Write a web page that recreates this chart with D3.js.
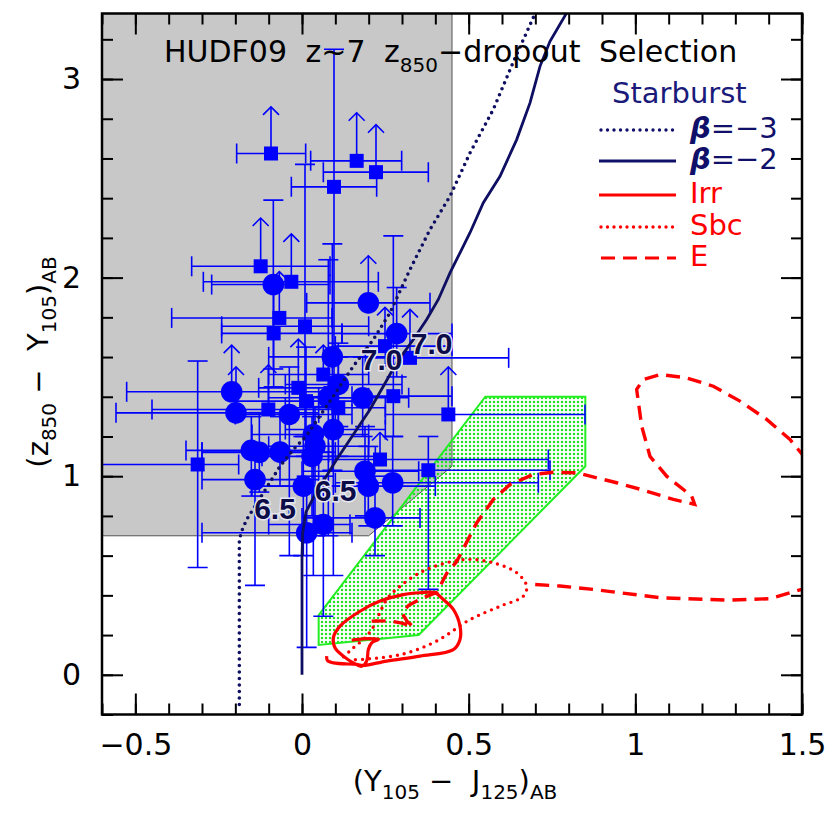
<!DOCTYPE html>
<html>
<head>
<meta charset="utf-8">
<script src="https://cdn.jsdelivr.net/npm/d3@7"></script>
<style>
body { margin: 0; background: #fff; }
text { font-family: "DejaVu Sans", sans-serif; }
</style>
</head>
<body>
<svg id="chart" width="830" height="823"></svg>
<script>
// ---- data ----
var xMajorTicks = [-0.5, 0, 0.5, 1, 1.5];
var yMajorTicks = [0, 1, 2, 3];

// z~7 selection window (grey) and the green box
var selectionBox = [[-0.6, 0.7], [0.2, 0.7], [0.45, 1.05], [0.45, 3.33], [-0.6, 3.33]];
var greenBox = [[0.05, 0.3], [0.05, 0.15], [0.35, 0.2], [0.85, 1.05], [0.85, 1.4], [0.55, 1.4]];

// starburst tracks
var beta3Track = [[-0.188, -0.15], [-0.188, 0.68], [-0.181, 0.723], [-0.166, 0.782], [-0.116, 0.916],
  [-0.066, 1.05], [-0.026, 1.134], [0.014, 1.205], [0.094, 1.403], [0.154, 1.554], [0.214, 1.688],
  [0.264, 1.823], [0.324, 2.041], [0.384, 2.242], [0.444, 2.41], [0.504, 2.628], [0.574, 2.847],
  [0.634, 3.086], [0.694, 3.31], [0.71, 3.4]];
var beta2Track = [[0, 0], [0, 0.6], [0.002, 0.715], [0.012, 0.82], [0.04, 0.91], [0.104, 1.084],
  [0.164, 1.235], [0.204, 1.336], [0.244, 1.453], [0.284, 1.571], [0.334, 1.688], [0.374, 1.789],
  [0.409, 1.89], [0.444, 2.024], [0.474, 2.125], [0.504, 2.226], [0.544, 2.377], [0.594, 2.51],
  [0.644, 2.695], [0.684, 2.88], [0.714, 3.064], [0.744, 3.19], [0.794, 3.333], [0.81, 3.4]];

// galaxy templates
var irrTrack = [[0.074, 0.094], [0.076, 0.072], [0.094, 0.06], [0.164, 0.052], [0.184, 0.047], [0.254, 0.069],
  [0.354, 0.094], [0.454, 0.127], [0.474, 0.178], [0.474, 0.245], [0.454, 0.329], [0.424, 0.379],
  [0.399, 0.413], [0.354, 0.413], [0.304, 0.404], [0.234, 0.371], [0.174, 0.32], [0.114, 0.245],
  [0.094, 0.186], [0.099, 0.136], [0.124, 0.094], [0.154, 0.06], [0.179, 0.043], [0.194, 0.069],
  [0.199, 0.127], [0.209, 0.161], [0.229, 0.178], [0.214, 0.181], [0.184, 0.181], [0.149, 0.174]];
var sbcTrack = [[0.125, 0.09], [0.15, 0.13], [0.185, 0.18], [0.21, 0.23], [0.23, 0.3], [0.254, 0.379],
  [0.294, 0.446], [0.354, 0.514], [0.414, 0.555], [0.494, 0.581], [0.574, 0.564], [0.644, 0.514],
  [0.674, 0.447], [0.664, 0.396], [0.594, 0.345], [0.504, 0.278], [0.404, 0.17], [0.304, 0.105],
  [0.2, 0.08], [0.15, 0.075]];
var eTrack = [[0.209, 0.27], [0.26, 0.272], [0.3, 0.26], [0.333, 0.243], [0.315, 0.27], [0.3, 0.31],
  [0.32, 0.35], [0.36, 0.385], [0.404, 0.415], [0.434, 0.51], [0.464, 0.57], [0.524, 0.765],
  [0.574, 0.883], [0.624, 0.958], [0.694, 1.009], [0.754, 1.02], [0.824, 1.017], [0.944, 0.967],
  [1.024, 0.93], [1.114, 0.883], [1.178, 0.858], [1.169, 0.9], [1.094, 1.0], [1.044, 1.1],
  [1.019, 1.252], [1.004, 1.437], [1.024, 1.487], [1.074, 1.512], [1.154, 1.495], [1.234, 1.453],
  [1.314, 1.378], [1.394, 1.286], [1.464, 1.185], [1.52, 1.07], [1.6, 0.8], [1.56, 0.5],
  [1.499, 0.43], [1.404, 0.383], [1.274, 0.376], [1.074, 0.388], [0.874, 0.43], [0.774, 0.447],
  [0.694, 0.455]];

var zLabels = [
  { t: "6.5", x: -0.081, y: 0.782 },
  { t: "6.5", x: 0.101, y: 0.874 },
  { t: "7.0", x: 0.239, y: 1.537 },
  { t: "7.0", x: 0.389, y: 1.613 }
];

// candidates: x, y, error ranges; lim = top of 1-sigma lower limit arrow
var squarePts = [
  { x: -0.093, y: 2.625, xl: -0.196, xh: 0.011, lim: 2.86 },
  { x: 0.164, y: 2.588, xl: 0.026, xh: 0.299, lim: 2.83 },
  { x: 0.222, y: 2.531, xl: 0.064, xh: 0.379, lim: 2.77 },
  { x: 0.096, y: 2.457, xl: -0.032, xh: 0.224, yl: 1.5, yh: 3.15 },
  { x: -0.124, y: 2.057, xl: -0.331, xh: 0.084, lim: 2.30 },
  { x: -0.032, y: 1.979, xl: -0.296, xh: 0.229, lim: 2.22 },
  { x: -0.068, y: 1.797, xl: -0.391, xh: 0.09, lim: 2.03 },
  { x: -0.085, y: 1.719, xl: -0.241, xh: 0.12, yl: 1.45, yh: 1.95 },
  { x: 0.009, y: 1.755, xl: -0.241, xh: 0.2, yl: 1.2, yh: 2.57 },
  { x: 0.324, y: 1.596, xl: 0.19, xh: 0.62, lim: 1.84 },
  { x: 0.249, y: 1.655, xl: 0.1, xh: 0.45, lim: 1.85 },
  { x: 0.064, y: 1.512, xl: -0.1, xh: 0.2, lim: 1.66 },
  { x: -0.011, y: 1.445, xl: -0.13, xh: 0.1, lim: 1.69 },
  { x: 0.274, y: 1.403, xl: 0.15, xh: 0.45, yl: 1.2, yh: 2.21 },
  { x: 0.012, y: 1.378, xl: -0.2, xh: 0.2, yl: 1.1, yh: 1.65 },
  { x: -0.101, y: 1.336, xl: -0.45, xh: 0.1, lim: 1.56 },
  { x: 0.109, y: 1.345, xl: -0.05, xh: 0.25, yl: 1.1, yh: 1.6 },
  { x: 0.439, y: 1.311, xl: 0.25, xh: 0.849, lim: 1.55 },
  { x: -0.313, y: 1.059, xl: -0.65, xh: -0.19, yl: 0.54, yh: 1.58 },
  { x: 0.234, y: 1.084, xl: 0.05, xh: 0.739, lim: 1.22 },
  { x: 0.379, y: 1.03, xl: 0.2, xh: 0.744, yl: 0.43, yh: 1.2 }
];
var circlePts = [
  { x: -0.086, y: 1.965, xl: -0.271, xh: 0.084, yl: 1.54, yh: 2.39 },
  { x: 0.199, y: 1.873, xl: 0.014, xh: 0.384, lim: 2.11 },
  { x: 0.284, y: 1.718, xl: 0.12, xh: 0.45, yl: 1.5, yh: 1.95 },
  { x: 0.091, y: 1.601, xl: -0.1, xh: 0.25, yl: 1.03, yh: 2.17 },
  { x: 0.109, y: 1.462, xl: -0.05, xh: 0.3, yl: 1.25, yh: 1.67 },
  { x: -0.211, y: 1.425, xl: -0.526, xh: 0.1, lim: 1.66 },
  { x: 0.079, y: 1.395, xl: -0.1, xh: 0.2, yl: 0.7, yh: 2.09 },
  { x: 0.182, y: 1.395, xl: 0.05, xh: 0.32, yl: 1.2, yh: 1.6 },
  { x: -0.198, y: 1.319, xl: -0.558, xh: 0.05, lim: 1.55 },
  { x: -0.038, y: 1.311, xl: -0.2, xh: 0.15, yl: 0.6, yh: 1.55 },
  { x: 0.094, y: 1.235, xl: -0.05, xh: 0.25, yl: 0.5, yh: 1.45 },
  { x: 0.034, y: 1.21, xl: -0.15, xh: 0.2, yl: 0.5, yh: 1.4 },
  { x: -0.152, y: 1.13, xl: -0.348, xh: 0.05, yl: 0.9, yh: 1.3 },
  { x: -0.128, y: 1.12, xl: -0.3, xh: 0.08, yl: 0.92, yh: 1.32 },
  { x: -0.066, y: 1.121, xl: -0.3, xh: 0.1, yl: 0.95, yh: 1.3 },
  { x: -0.141, y: 0.983, xl: -0.3, xh: 0.05, yl: 0.45, yh: 1.15 },
  { x: 0.004, y: 0.95, xl: -0.15, xh: 0.2, yl: 0.6, yh: 1.2 },
  { x: 0.039, y: 1.151, xl: -0.1, xh: 0.2, yl: 0.7, yh: 1.35 },
  { x: 0.03, y: 1.10, xl: -0.12, xh: 0.22, yl: 0.8, yh: 1.3 },
  { x: 0.189, y: 1.025, xl: 0.0, xh: 0.35, yl: 0.8, yh: 1.25 },
  { x: 0.199, y: 0.95, xl: 0.0, xh: 0.4, yl: 0.75, yh: 1.15 },
  { x: 0.272, y: 0.967, xl: 0.1, xh: 0.709, yl: 0.75, yh: 1.2 },
  { x: 0.219, y: 0.79, xl: 0.0, xh: 0.354, yl: 0.6, yh: 1.0 },
  { x: 0.064, y: 0.757, xl: -0.1, xh: 0.144, yl: 0.295, yh: 1.0 },
  { x: 0.014, y: 0.715, xl: -0.3, xh: 0.15, yl: 0.138, yh: 1.0 }
];

var legendRows = [
  { sym: "β", rest: "=−3", color: "#10106a", style: "dot" },
  { sym: "β", rest: "=−2", color: "#10106a", style: "solid" },
  { sym: "", rest: "Irr", color: "#ff0000", style: "solid" },
  { sym: "", rest: "Sbc", color: "#ff0000", style: "dot" },
  { sym: "", rest: "E", color: "#ff0000", style: "dash" }
];

// ---- drawing ----
var svg = d3.select("#chart");
var navy = "#0e0e62", blue = "#0000ff";

var x = d3.scaleLinear().domain([-0.6, 1.5]).range([102, 802]);
var y = d3.scaleLinear().domain([-0.2, 3.33]).range([714.5, 13.5]);

var defs = svg.append("defs");
defs.append("clipPath").attr("id", "plotclip")
  .append("rect").attr("x", 102).attr("y", 13.5).attr("width", 700).attr("height", 701);
var pat = defs.append("pattern").attr("id", "greendots")
  .attr("patternUnits", "userSpaceOnUse").attr("width", 4).attr("height", 4);
pat.append("rect").attr("x", 0.9).attr("y", 0.9).attr("width", 2.2).attr("height", 2.2).attr("fill", "#22e022");

var line = d3.line().x(function (d) { return x(d[0]); }).y(function (d) { return y(d[1]); });
var smooth = d3.line().x(function (d) { return x(d[0]); }).y(function (d) { return y(d[1]); })
  .curve(d3.curveCatmullRom.alpha(0.5));

var plot = svg.append("g").attr("clip-path", "url(#plotclip)");

plot.append("path").attr("d", line(selectionBox) + "Z")
  .attr("fill", "#c8c8c8").attr("stroke", "#555").attr("stroke-width", 1);

plot.append("path").attr("d", line(greenBox) + "Z")
  .attr("fill", "url(#greendots)").attr("stroke", "#22ee22").attr("stroke-width", 2);

// error bars
var errG = plot.append("g").attr("stroke", blue).attr("stroke-width", 1.6).attr("fill", "none");
function drawErr(d) {
  var cx = x(d.x), cy = y(d.y);
  errG.append("line").attr("x1", x(d.xl)).attr("x2", x(d.xh)).attr("y1", cy).attr("y2", cy);
  errG.append("line").attr("x1", x(d.xl)).attr("x2", x(d.xl)).attr("y1", cy - 10).attr("y2", cy + 10);
  errG.append("line").attr("x1", x(d.xh)).attr("x2", x(d.xh)).attr("y1", cy - 10).attr("y2", cy + 10);
  if (d.lim !== undefined) {
    var ty = y(d.lim);
    errG.append("line").attr("x1", cx).attr("x2", cx).attr("y1", cy).attr("y2", ty);
    errG.append("path").attr("d", "M" + (cx - 8) + "," + (ty + 8) + "L" + cx + "," + ty + "L" + (cx + 8) + "," + (ty + 8));
  } else {
    errG.append("line").attr("x1", cx).attr("x2", cx).attr("y1", y(d.yl)).attr("y2", y(d.yh));
    errG.append("line").attr("x1", cx - 10).attr("x2", cx + 10).attr("y1", y(d.yl)).attr("y2", y(d.yl));
    errG.append("line").attr("x1", cx - 10).attr("x2", cx + 10).attr("y1", y(d.yh)).attr("y2", y(d.yh));
  }
}
squarePts.forEach(drawErr);
circlePts.forEach(drawErr);

plot.selectAll("rect.sq").data(squarePts).enter().append("rect")
  .attr("class", "sq")
  .attr("x", function (d) { return x(d.x) - 7; })
  .attr("y", function (d) { return y(d.y) - 7; })
  .attr("width", 14).attr("height", 14).attr("fill", blue);
plot.selectAll("circle.pt").data(circlePts).enter().append("circle")
  .attr("class", "pt")
  .attr("cx", function (d) { return x(d.x); })
  .attr("cy", function (d) { return y(d.y); })
  .attr("r", 10.8).attr("fill", blue);

// tracks
plot.append("path").attr("d", line(beta3Track)).attr("fill", "none").attr("stroke", navy)
  .attr("stroke-width", 3.6).attr("stroke-dasharray", "0,6.5").attr("stroke-linecap", "round");
plot.append("path").attr("d", line(beta2Track)).attr("fill", "none").attr("stroke", navy)
  .attr("stroke-width", 2.8);
plot.append("path").attr("d", smooth(irrTrack)).attr("fill", "none").attr("stroke", "#ff0000")
  .attr("stroke-width", 3.2).attr("stroke-linejoin", "round");
plot.append("path").attr("d", smooth(sbcTrack)).attr("fill", "none").attr("stroke", "#ff0000")
  .attr("stroke-width", 3.4).attr("stroke-dasharray", "0,7").attr("stroke-linecap", "round");
plot.append("path").attr("d", line(eTrack)).attr("fill", "none").attr("stroke", "#ff0000")
  .attr("stroke-width", 3.4).attr("stroke-dasharray", "14,8");

plot.selectAll("text.zl").data(zLabels).enter().append("text")
  .attr("class", "zl")
  .attr("x", function (d) { return x(d.x); })
  .attr("y", function (d) { return y(d.y); })
  .attr("text-anchor", "middle")
  .style("font-family", "'Liberation Sans', sans-serif")
  .attr("font-size", 30).attr("font-weight", "bold")
  .attr("fill", "#0c0c48").attr("stroke", "#e6e6f0").attr("stroke-width", 3)
  .attr("paint-order", "stroke")
  .text(function (d) { return d.t; });

// axes and frame
function styleAxis(g) {
  g.select(".domain").remove();
  g.selectAll(".tick line").attr("stroke", "#000").attr("stroke-width", 2);
  g.selectAll(".tick text").attr("font-size", 30).attr("fill", "#000")
    .style("font-family", "'DejaVu Sans', sans-serif");
}
var fmt = d3.format("~g");
var xMinor = d3.range(-0.6, 1.55, 0.1), yMinor = d3.range(-0.2, 3.35, 0.2);

svg.append("g").attr("transform", "translate(0,714.5)")
  .call(d3.axisBottom(x).tickValues(xMinor).tickSize(-11).tickFormat("")).call(styleAxis);
svg.append("g").attr("transform", "translate(0,714.5)")
  .call(d3.axisBottom(x).tickValues(xMajorTicks).tickSize(-21).tickPadding(19).tickFormat(fmt)).call(styleAxis);
svg.append("g").attr("transform", "translate(0,13.5)")
  .call(d3.axisTop(x).tickValues(xMinor).tickSize(-11).tickFormat("")).call(styleAxis);
svg.append("g").attr("transform", "translate(0,13.5)")
  .call(d3.axisTop(x).tickValues(xMajorTicks).tickSize(-21).tickFormat("")).call(styleAxis);
svg.append("g").attr("transform", "translate(102,0)")
  .call(d3.axisLeft(y).tickValues(yMinor).tickSize(-11).tickFormat("")).call(styleAxis);
svg.append("g").attr("transform", "translate(102,0)")
  .call(d3.axisLeft(y).tickValues(yMajorTicks).tickSize(-21).tickPadding(21).tickFormat(fmt)).call(styleAxis);
svg.append("g").attr("transform", "translate(802,0)")
  .call(d3.axisRight(y).tickValues(yMinor).tickSize(-11).tickFormat("")).call(styleAxis);
svg.append("g").attr("transform", "translate(802,0)")
  .call(d3.axisRight(y).tickValues(yMajorTicks).tickSize(-21).tickFormat("")).call(styleAxis);

svg.append("rect").attr("x", 102).attr("y", 13.5).attr("width", 700).attr("height", 701)
  .attr("fill", "none").attr("stroke", "#000").attr("stroke-width", 2.5);

// title
var title = svg.append("text").attr("x", 164).attr("y", 62).attr("font-size", 30)
  .attr("word-spacing", 9).attr("fill", "#000");
title.append("tspan").text("HUDF09 z~7 z");
title.append("tspan").attr("font-size", 20).attr("dy", 10).text("850");
title.append("tspan").attr("dy", -10).text("−dropout Selection");

// axis titles
var xt = svg.append("text").attr("x", 455).attr("y", 791).attr("text-anchor", "middle")
  .attr("font-size", 29).attr("fill", "#000");
xt.append("tspan").text("(Y");
xt.append("tspan").attr("font-size", 20).attr("dy", 8).text("105");
xt.append("tspan").attr("dy", -8).text("\u00a0\u2212\u00a0 J");
xt.append("tspan").attr("font-size", 20).attr("dy", 8).text("125");
xt.append("tspan").attr("dy", -8).text(")");
xt.append("tspan").attr("font-size", 20).attr("dy", 8).text("AB");

var yt = svg.append("text").attr("transform", "translate(48,362) rotate(-90)").attr("text-anchor", "middle")
  .attr("font-size", 29).attr("fill", "#000");
yt.append("tspan").text("(z");
yt.append("tspan").attr("font-size", 20).attr("dy", 8).text("850");
yt.append("tspan").attr("dy", -8).text("\u00a0\u2212\u00a0 Y");
yt.append("tspan").attr("font-size", 20).attr("dy", 8).text("105");
yt.append("tspan").attr("dy", -8).text(")");
yt.append("tspan").attr("font-size", 20).attr("dy", 8).text("AB");

// legend
var leg = svg.append("g");
leg.append("text").attr("x", 612).attr("y", 103).attr("font-size", 29).attr("fill", "#1a1a7a").text("Starburst");
var rowY = [130, 161, 195, 227, 258];
legendRows.forEach(function (r, i) {
  var ly = rowY[i];
  var ln = leg.append("line").attr("x1", 599).attr("x2", 676).attr("y1", ly).attr("y2", ly)
    .attr("stroke", r.color).attr("stroke-width", 3);
  if (r.style === "dot") ln.attr("stroke-dasharray", "0,6.5").attr("stroke-linecap", "round").attr("x1", 601).attr("stroke-width", 3.4);
  if (r.style === "dash") ln.attr("stroke-dasharray", "14,8").attr("x1", 601);
  var t = leg.append("text").attr("x", 690).attr("y", ly + 8).attr("font-size", 29).attr("fill", r.color);
  if (r.sym) t.append("tspan").attr("font-weight", "bold").attr("font-style", "italic").text(r.sym);
  t.append("tspan").text(r.rest);
});
</script>
</body>
</html>
